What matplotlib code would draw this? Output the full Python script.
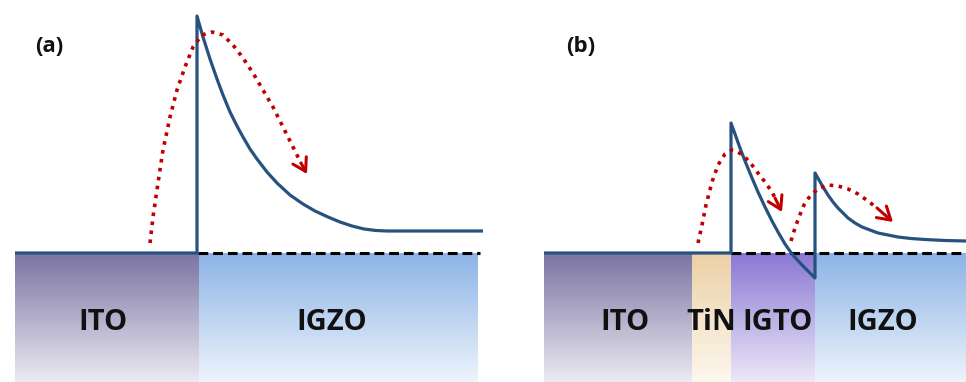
import numpy as np
import matplotlib
matplotlib.use("Agg")
import matplotlib.pyplot as plt
from matplotlib.colors import LinearSegmentedColormap

# canvas is laid out in pixel units (origin top-left)
W, H = 966, 382
BASE_Y = 253

# ---- layer stacks: (name, left, right, top colour, bottom colour, label x)
layers_a = [
    ("ITO", 15, 199, "#7a74a2", "#eceaf3", 103),
    ("IGZO", 199, 478, "#8cb3e6", "#eef4fc", 332),
]
layers_b = [
    ("ITO", 544, 692, "#7a74a2", "#eceaf3", 625),
    ("TiN", 692, 731, "#ecd1a6", "#fdf7ee", 711),
    ("IGTO", 731, 815, "#8a78d4", "#ece8f8", 778),
    ("IGZO", 815, 966, "#8cb3e6", "#eef4fc", 883),
]

# ---- band edges (conduction band)
band_a_x = [15, 197, 197, 203, 210, 217, 223, 230, 237, 243, 250, 257, 267, 277,
            290, 303, 315, 328, 340, 352, 364, 376, 387, 483]
band_a_y = [253, 253, 16, 37, 59, 79, 95, 112, 126, 137, 149, 159, 172, 183,
            195, 204, 211, 217, 222, 226, 229, 230.5, 231, 231]

band_b_x = [544, 731, 731, 735, 740, 745, 752, 758, 765, 772, 778, 785, 792, 802, 810, 815,
            815, 819, 823, 828, 833, 838, 843, 848, 855, 862, 870, 878, 888, 898, 911, 925, 945, 966]
band_b_y = [253, 253, 123, 134, 148, 161, 178, 192, 207, 221, 232, 244, 254, 265, 273, 278,
            173, 180, 187, 195, 202, 208, 213, 218, 223, 227, 230, 233, 235, 237, 238.5, 239.5, 240.5, 241]

# dashed reference (Fermi level) lines
fermi_a = (198, 480)
fermi_b = (731, 966)

# ---- electron paths (red dotted arcs); last point is the arrow tip
arc_a_x = [150, 153, 158, 163, 170, 177, 185, 193, 202, 212, 223, 233, 243, 253, 263, 273, 283, 293, 301, 307]
arc_a_y = [243, 217, 183, 150, 117, 90, 67, 47, 35, 32, 35, 45, 58, 73, 90, 107, 127, 147, 163, 174]

arc_b1_x = [698, 702, 706, 712, 718, 725, 732, 738, 745, 752, 758, 765, 772, 775, 782]
arc_b1_y = [243, 225, 205, 182, 165, 154, 150, 152, 157, 165, 173, 182, 192, 198, 212]

arc_b2_x = [791, 795, 799, 804, 810, 818, 828, 838, 848, 858, 868, 877, 893]
arc_b2_y = [241, 228, 217, 205, 196, 189, 185, 186, 189, 194, 201, 208, 222]

panel_labels = [("(a)", 49, 47), ("(b)", 581, 47)]

BLUE = "#27527f"
RED = "#c00000"

fig = plt.figure(figsize=(W / 100, H / 100), dpi=100)
ax = fig.add_axes([0, 0, 1, 1])

grad = np.linspace(0, 1, 256).reshape(-1, 1)
for name, x0, x1, c_top, c_bot, lx in layers_a + layers_b:
    cmap = LinearSegmentedColormap.from_list(name, [c_top, c_bot])
    ax.imshow(grad, cmap=cmap, extent=(x0, x1, H, BASE_Y), origin="upper",
              aspect="auto", interpolation="bilinear", zorder=1)
    ax.text(lx, 323, name, ha="center", va="center", fontsize=21,
            fontweight="bold", family=["Open Sans", "DejaVu Sans"],
            color="#111111", zorder=5)

for x0, x1 in (fermi_a, fermi_b):
    ax.plot([x0, x1], [BASE_Y, BASE_Y], color="black", lw=2.2,
            dashes=(3.2, 1.6), zorder=3)

for bx, by in ((band_a_x, band_a_y), (band_b_x, band_b_y)):
    ax.plot(bx, by, color=BLUE, lw=2.3, solid_joinstyle="round",
            solid_capstyle="butt", zorder=4)

for cx, cy in ((arc_a_x, arc_a_y), (arc_b1_x, arc_b1_y), (arc_b2_x, arc_b2_y)):
    ax.plot(cx[:-1], cy[:-1], color=RED, lw=2.6, linestyle=(0, (1, 1.5)),
            dash_capstyle="butt", zorder=6)
    ax.annotate("", xy=(cx[-1], cy[-1]), xytext=(cx[-2], cy[-2]),
                arrowprops=dict(arrowstyle="->,head_length=0.9,head_width=0.55",
                                color=RED, lw=2.2, shrinkA=0, shrinkB=0),
                zorder=6)

for txt, x, y in panel_labels:
    ax.text(x, y, txt, ha="center", va="center", fontsize=16,
            fontweight="bold", family=["Open Sans", "DejaVu Sans"], color="#111111")

ax.set_xlim(0, W)
ax.set_ylim(H, 0)
ax.axis("off")

fig.savefig("out.png", dpi=100)
